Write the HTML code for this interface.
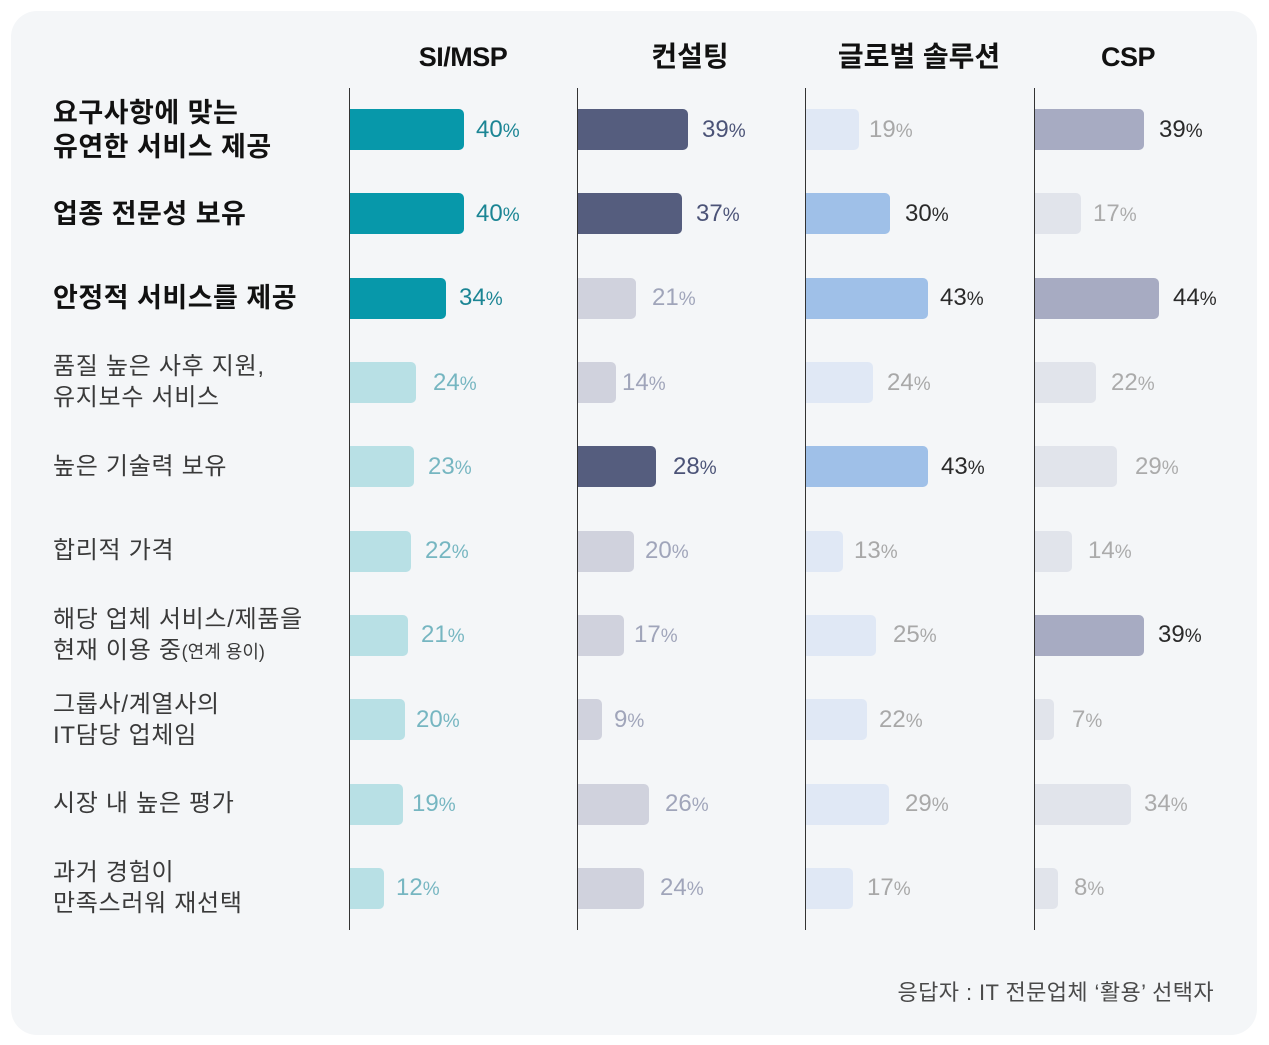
<!DOCTYPE html>
<html><head><meta charset="utf-8"><style>
*{margin:0;padding:0;box-sizing:border-box}
body{width:1269px;height:1045px;background:#fff;position:relative;overflow:hidden;font-family:"Liberation Sans","Noto Sans CJK KR",sans-serif}
.panel{position:absolute;left:11px;top:11px;width:1246px;height:1024px;border-radius:26px;background:#f4f6f8}
.ax{position:absolute;top:88px;height:842px;width:1px;background:#333;z-index:2}
.b{position:absolute;height:41px;border-radius:0 5px 5px 0}
.p{position:absolute;height:30px;line-height:30px;font-size:24px;white-space:nowrap}
.p small{font-size:19px}
.h{position:absolute;top:39px;width:240px;height:36px;line-height:36px;text-align:center;font-size:28px;font-weight:700;color:#111;font-family:"Liberation Sans","Noto Sans CJK KR",sans-serif}
.lb{position:absolute;left:53px;display:flex;align-items:center;white-space:nowrap}
.lb.bold{font-size:27px;font-weight:700;color:#111;line-height:34px;letter-spacing:0.5px}
.lb.reg{font-size:24px;color:#3a3a3a;line-height:31px;letter-spacing:0.7px}
.lb small{font-size:18px;letter-spacing:0}
/* bar colors */
.s1{background:#0798aa}.s0{background:#b8e0e5}
.c1{background:#555d7e}.c0{background:#d0d2dd}
.g1{background:#9fc0e8}.g0{background:#e0e8f5}
.k1{background:#a7abc2}.k0{background:#e1e4eb}
/* label colors */
.ts1{color:#1b8594}.ts0{color:#76b6c1}
.tc1{color:#4b5377}.tc0{color:#a0a5ba}
.tg1{color:#2a2a2a}.tg0{color:#a8a8a8}
.tk1{color:#2a2a2a}.tk0{color:#ababab}
.foot{position:absolute;right:55px;top:980px;height:26px;line-height:26px;font-size:22px;letter-spacing:0.4px;color:#4a4a4a;white-space:nowrap}
</style></head><body>
<div class="panel"></div>

<div class="h" style="left:343px;font-size:27px;letter-spacing:-0.5px">SI/MSP</div>
<div class="h" style="left:570px">컨설팅</div>
<div class="h" style="left:799px">글로벌 솔루션</div>
<div class="h" style="left:1008px;font-size:27px;letter-spacing:-0.5px">CSP</div>

<div class="ax" style="left:349px"></div>
<div class="ax" style="left:577px"></div>
<div class="ax" style="left:805px"></div>
<div class="ax" style="left:1034px"></div>

<!-- row labels -->
<div class="lb bold" style="top:96px;height:68px"><div>요구사항에 맞는<br>유연한 서비스 제공</div></div>
<div class="lb bold" style="top:197px;height:34px"><div>업종 전문성 보유</div></div>
<div class="lb bold" style="top:281px;height:34px"><div>안정적 서비스를 제공</div></div>
<div class="lb reg" style="top:351px;height:62px"><div>품질 높은 사후 지원,<br>유지보수 서비스</div></div>
<div class="lb reg" style="top:451px;height:31px"><div>높은 기술력 보유</div></div>
<div class="lb reg" style="top:535px;height:31px"><div>합리적 가격</div></div>
<div class="lb reg" style="top:605px;height:62px"><div>해당 업체 서비스/제품을<br>현재 이용 중<small>(연계 용이)</small></div></div>
<div class="lb reg" style="top:689px;height:62px"><div>그룹사/계열사의<br>IT담당 업체임</div></div>
<div class="lb reg" style="top:788px;height:31px"><div>시장 내 높은 평가</div></div>
<div class="lb reg" style="top:857px;height:62px"><div>과거 경험이<br>만족스러워 재선택</div></div>

<!-- SI/MSP -->
<div class="b s1" style="left:349px;top:109px;width:115px"></div><div class="p ts1" style="left:476px;top:115px">40<small>%</small></div>
<div class="b s1" style="left:349px;top:193px;width:115px"></div><div class="p ts1" style="left:476px;top:199px">40<small>%</small></div>
<div class="b s1" style="left:349px;top:278px;width:97px"></div><div class="p ts1" style="left:459px;top:283px">34<small>%</small></div>
<div class="b s0" style="left:349px;top:362px;width:67px"></div><div class="p ts0" style="left:433px;top:368px">24<small>%</small></div>
<div class="b s0" style="left:349px;top:446px;width:65px"></div><div class="p ts0" style="left:428px;top:452px">23<small>%</small></div>
<div class="b s0" style="left:349px;top:531px;width:62px"></div><div class="p ts0" style="left:425px;top:536px">22<small>%</small></div>
<div class="b s0" style="left:349px;top:615px;width:59px"></div><div class="p ts0" style="left:421px;top:620px">21<small>%</small></div>
<div class="b s0" style="left:349px;top:699px;width:56px"></div><div class="p ts0" style="left:416px;top:705px">20<small>%</small></div>
<div class="b s0" style="left:349px;top:784px;width:54px"></div><div class="p ts0" style="left:412px;top:789px">19<small>%</small></div>
<div class="b s0" style="left:349px;top:868px;width:35px"></div><div class="p ts0" style="left:396px;top:873px">12<small>%</small></div>

<!-- Consulting -->
<div class="b c1" style="left:577px;top:109px;width:111px"></div><div class="p tc1" style="left:702px;top:115px">39<small>%</small></div>
<div class="b c1" style="left:577px;top:193px;width:105px"></div><div class="p tc1" style="left:696px;top:199px">37<small>%</small></div>
<div class="b c0" style="left:577px;top:278px;width:59px"></div><div class="p tc0" style="left:652px;top:283px">21<small>%</small></div>
<div class="b c0" style="left:577px;top:362px;width:39px"></div><div class="p tc0" style="left:622px;top:368px">14<small>%</small></div>
<div class="b c1" style="left:577px;top:446px;width:79px"></div><div class="p tc1" style="left:673px;top:452px">28<small>%</small></div>
<div class="b c0" style="left:577px;top:531px;width:57px"></div><div class="p tc0" style="left:645px;top:536px">20<small>%</small></div>
<div class="b c0" style="left:577px;top:615px;width:47px"></div><div class="p tc0" style="left:634px;top:620px">17<small>%</small></div>
<div class="b c0" style="left:577px;top:699px;width:25px"></div><div class="p tc0" style="left:614px;top:705px">9<small>%</small></div>
<div class="b c0" style="left:577px;top:784px;width:72px"></div><div class="p tc0" style="left:665px;top:789px">26<small>%</small></div>
<div class="b c0" style="left:577px;top:868px;width:67px"></div><div class="p tc0" style="left:660px;top:873px">24<small>%</small></div>

<!-- Global -->
<div class="b g0" style="left:805px;top:109px;width:54px"></div><div class="p tg0" style="left:869px;top:115px">19<small>%</small></div>
<div class="b g1" style="left:805px;top:193px;width:85px"></div><div class="p tg1" style="left:905px;top:199px">30<small>%</small></div>
<div class="b g1" style="left:805px;top:278px;width:123px"></div><div class="p tg1" style="left:940px;top:283px">43<small>%</small></div>
<div class="b g0" style="left:805px;top:362px;width:68px"></div><div class="p tg0" style="left:887px;top:368px">24<small>%</small></div>
<div class="b g1" style="left:805px;top:446px;width:123px"></div><div class="p tg1" style="left:941px;top:452px">43<small>%</small></div>
<div class="b g0" style="left:805px;top:531px;width:38px"></div><div class="p tg0" style="left:854px;top:536px">13<small>%</small></div>
<div class="b g0" style="left:805px;top:615px;width:71px"></div><div class="p tg0" style="left:893px;top:620px">25<small>%</small></div>
<div class="b g0" style="left:805px;top:699px;width:62px"></div><div class="p tg0" style="left:879px;top:705px">22<small>%</small></div>
<div class="b g0" style="left:805px;top:784px;width:84px"></div><div class="p tg0" style="left:905px;top:789px">29<small>%</small></div>
<div class="b g0" style="left:805px;top:868px;width:48px"></div><div class="p tg0" style="left:867px;top:873px">17<small>%</small></div>

<!-- CSP -->
<div class="b k1" style="left:1034px;top:109px;width:110px"></div><div class="p tk1" style="left:1159px;top:115px">39<small>%</small></div>
<div class="b k0" style="left:1034px;top:193px;width:47px"></div><div class="p tk0" style="left:1093px;top:199px">17<small>%</small></div>
<div class="b k1" style="left:1034px;top:278px;width:125px"></div><div class="p tk1" style="left:1173px;top:283px">44<small>%</small></div>
<div class="b k0" style="left:1034px;top:362px;width:62px"></div><div class="p tk0" style="left:1111px;top:368px">22<small>%</small></div>
<div class="b k0" style="left:1034px;top:446px;width:83px"></div><div class="p tk0" style="left:1135px;top:452px">29<small>%</small></div>
<div class="b k0" style="left:1034px;top:531px;width:38px"></div><div class="p tk0" style="left:1088px;top:536px">14<small>%</small></div>
<div class="b k1" style="left:1034px;top:615px;width:110px"></div><div class="p tk1" style="left:1158px;top:620px">39<small>%</small></div>
<div class="b k0" style="left:1034px;top:699px;width:20px"></div><div class="p tk0" style="left:1072px;top:705px">7<small>%</small></div>
<div class="b k0" style="left:1034px;top:784px;width:97px"></div><div class="p tk0" style="left:1144px;top:789px">34<small>%</small></div>
<div class="b k0" style="left:1034px;top:868px;width:24px"></div><div class="p tk0" style="left:1074px;top:873px">8<small>%</small></div>

<div class="foot">응답자 : IT 전문업체 ‘활용’ 선택자</div>
</body></html>
